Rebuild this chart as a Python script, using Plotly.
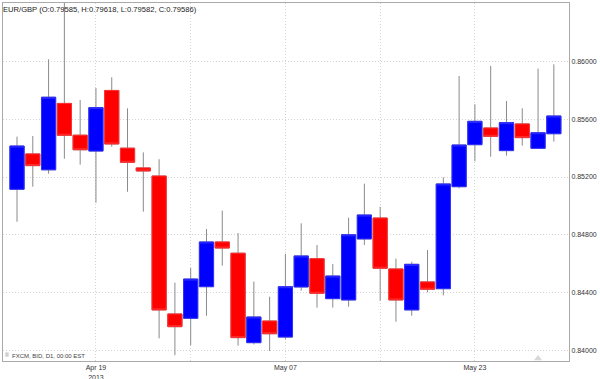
import plotly.graph_objects as go
import numpy as np

dates = ["2013-04-12", "2013-04-15", "2013-04-16", "2013-04-17", "2013-04-18",
         "2013-04-19", "2013-04-22", "2013-04-23", "2013-04-24", "2013-04-25",
         "2013-04-26", "2013-04-29", "2013-04-30", "2013-05-01", "2013-05-02",
         "2013-05-03", "2013-05-06", "2013-05-07", "2013-05-08", "2013-05-09",
         "2013-05-10", "2013-05-13", "2013-05-14", "2013-05-15", "2013-05-16",
         "2013-05-17", "2013-05-20", "2013-05-21", "2013-05-22", "2013-05-23",
         "2013-05-24", "2013-05-27", "2013-05-28", "2013-05-29", "2013-05-30"]

opens = [0.85115, 0.85360, 0.85250, 0.85710, 0.85490, 0.85380, 0.85800, 0.85400,
         0.85263, 0.85207, 0.84251, 0.84221, 0.84440, 0.84750, 0.84672, 0.84052,
         0.84202, 0.84091, 0.84438, 0.84634, 0.84357, 0.84348, 0.84771, 0.84916,
         0.84563, 0.84279, 0.84473, 0.84426, 0.85133, 0.85424, 0.85540, 0.85383,
         0.85568, 0.85399, 0.85500]
highs = [0.85480, 0.85484, 0.86016, 0.86420, 0.85734, 0.85817, 0.85891, 0.85676,
         0.85371, 0.85323, 0.84468, 0.84570, 0.84840, 0.84967, 0.84812, 0.84475,
         0.84371, 0.84667, 0.84879, 0.84729, 0.84597, 0.84918, 0.85154, 0.84994,
         0.84634, 0.84613, 0.84694, 0.85198, 0.85900, 0.85704, 0.85970, 0.85727,
         0.85676, 0.85951, 0.85981]
lows = [0.84890, 0.85133, 0.85223, 0.85327, 0.85286, 0.85022, 0.85410, 0.85098,
        0.84960, 0.84082, 0.83965, 0.84034, 0.84239, 0.84586, 0.84031, 0.84040,
        0.83994, 0.84076, 0.84412, 0.84295, 0.84295, 0.84301, 0.84729, 0.84343,
        0.84197, 0.84239, 0.84401, 0.84380, 0.85122, 0.85309, 0.85341, 0.85348,
        0.85417, 0.85399, 0.85445]
closes = [0.85415, 0.85279, 0.85753, 0.85489, 0.85389, 0.85681, 0.85429, 0.85302,
          0.85242, 0.84279, 0.84163, 0.84493, 0.84750, 0.84708, 0.84087, 0.84230,
          0.84114, 0.84440, 0.84653, 0.84394, 0.84514, 0.84800, 0.84937, 0.84568,
          0.84348, 0.84595, 0.84422, 0.85152, 0.85422, 0.85586, 0.85482, 0.85577,
          0.85473, 0.85507, 0.85623]

x_tick_vals = ["2013-04-19", "2013-04-29", "2013-05-07", "2013-05-15", "2013-05-23"]
x_tick_text = ["Apr 19<br>2013", "", "May 07", "", "May 23"]
y_tick_vals = [0.840, 0.844, 0.848, 0.852, 0.856, 0.860]

title_text = "EUR/GBP (O:0.79585, H:0.79618, L:0.79582, C:0.79586)"
source_text = "FXCM, BID, D1, 00:00 EST"

BLUE = "#0000ff"
RED = "#ff0000"
FONT = "Arial, Liberation Sans, Helvetica, sans-serif"
GRID = "#d4d4d4"

o = np.array(opens)
c = np.array(closes)

fig = go.Figure()
# wicks (gray)
fig.add_trace(go.Candlestick(
    x=dates, open=opens, high=highs, low=lows, close=closes,
    increasing=dict(line=dict(color="#8a8a8a", width=1), fillcolor=BLUE),
    decreasing=dict(line=dict(color="#8a8a8a", width=1), fillcolor=RED),
    whiskerwidth=0, showlegend=False, hoverinfo="skip"))
# bodies
fig.add_trace(go.Candlestick(
    x=dates, open=opens, close=closes,
    high=np.maximum(o, c).tolist(), low=np.minimum(o, c).tolist(),
    increasing=dict(line=dict(color="#3030ff", width=1), fillcolor=BLUE),
    decreasing=dict(line=dict(color="#ff3030", width=1), fillcolor=RED),
    whiskerwidth=0, showlegend=False))
# event marker
fig.add_trace(go.Scatter(
    x=[dates[33]], y=[0.83942], mode="markers",
    marker=dict(symbol="triangle-up", size=7, color="#d8d8d8"),
    showlegend=False, hoverinfo="skip", cliponaxis=False))

fig.update_layout(
    width=600, height=379,
    margin=dict(l=3, r=31, t=3, b=18, autoexpand=False),
    paper_bgcolor="white", plot_bgcolor="white",
    boxgap=0.1, boxgroupgap=0, boxmode="overlay",
    font=dict(family=FONT, size=7, color="#333"),
    xaxis=dict(type="category", range=[-0.887, 34.96], rangeslider=dict(visible=False),
               tickmode="array", tickvals=x_tick_vals, ticktext=x_tick_text,
               showgrid=True, gridcolor=GRID, griddash="1px,2px", gridwidth=1,
               showline=True, mirror=True, linecolor="#aaaaaa", linewidth=1,
               ticks="", tickfont=dict(size=7, color="#333"), zeroline=False),
    yaxis=dict(side="right", range=[0.83925, 0.86406],
               tickmode="array", tickvals=y_tick_vals, tickformat=".5f",
               showgrid=True, gridcolor=GRID, griddash="1px,2px", gridwidth=1,
               showline=True, mirror=True, linecolor="#aaaaaa", linewidth=1,
               ticks="", tickfont=dict(size=7, color="#333"), zeroline=False),
    shapes=[dict(type="rect", xref="paper", yref="paper",
                 x0=0.004, x1=0.010, y0=0.012, y1=0.024,
                 fillcolor="#d0d0d0", line=dict(width=0))],
    annotations=[
        dict(text=title_text, xref="paper", yref="paper", x=0, y=1,
             xanchor="left", yanchor="top", xshift=-2, yshift=0, showarrow=False,
             font=dict(size=7.6, color="#222")),
        dict(text=source_text, xref="paper", yref="paper", x=0, y=0,
             xanchor="left", yanchor="bottom", xshift=7, yshift=0, showarrow=False,
             font=dict(size=6, color="#444")),
    ],
)

fig.write_html("out.html", config={"displayModeBar": False},
               post_script="document.body.style.margin='0px';document.body.style.overflow='hidden';")
